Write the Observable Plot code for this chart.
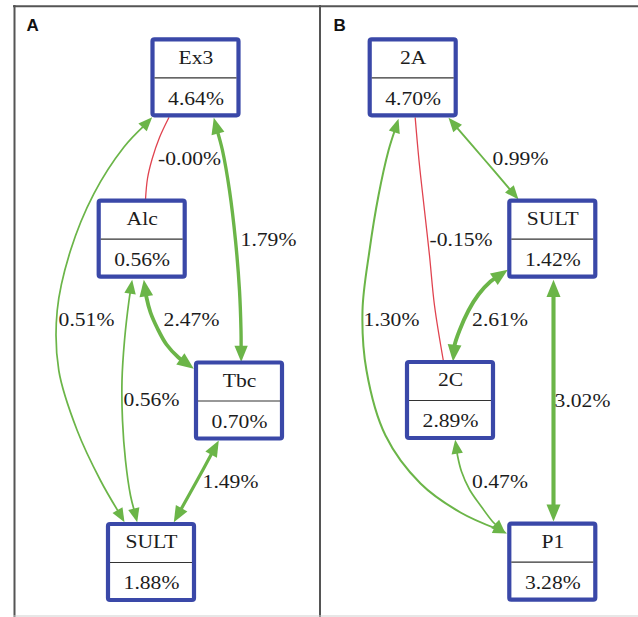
<!DOCTYPE html>
<html>
<head>
<meta charset="utf-8">
<script src="https://cdn.jsdelivr.net/npm/d3@7"></script>
<script src="https://cdn.jsdelivr.net/npm/@observablehq/plot@0.6"></script>
<style>
  body { margin: 0; background: #fff; }
</style>
</head>
<body>
<div id="chart"></div>
<script>
// ---------- data ----------
const panels = ["A", "B"];
const panelLetterX = [26, 333];

const nodeIds    = ["A:Ex3", "A:Alc", "A:Tbc", "A:SULT", "B:2A", "B:SULT", "B:2C", "B:P1"];
const nodeNames  = ["Ex3", "Alc", "Tbc", "SULT", "2A", "SULT", "2C", "P1"];
const nodeValues = [4.64, 0.56, 0.70, 1.88, 4.70, 1.42, 2.89, 3.28];
// graph layout (node centres)
const nodeX = [195.5, 141.7, 239, 151, 412.7, 552.3, 450, 552.3];
const nodeY = [77.3, 238.7, 400.5, 562, 77.3, 238.7, 400, 561.7];

const edgeSource = ["A:Ex3", "A:Ex3", "A:Ex3", "A:Alc", "A:Alc", "A:Tbc",
                    "B:2A", "B:2A", "B:2A", "B:SULT", "B:SULT", "B:2C"];
const edgeTarget = ["A:SULT", "A:Alc", "A:Tbc", "A:Tbc", "A:SULT", "A:SULT",
                    "B:SULT", "B:2C", "B:P1", "B:2C", "B:P1", "B:P1"];
const edgeValues = [0.51, -0, 1.79, 2.47, 0.56, 1.49,
                    0.99, -0.15, 1.30, 2.61, 3.02, 0.47];
// spline routes of the edges (layout waypoints)
const edgeRoutes = [
  [[151.7,116.7],[123.3,146.7],[93.3,193.3],[70,250],[56.7,310],[58.3,370],[76.7,430],[100,480],[124,521.7]],
  [[168.3,117.3],[159,137],[151.7,158.3],[147,178],[145,199]],
  [[213.3,117.3],[222,150],[229,190],[235,240],[239,290],[240.5,330],[240.7,361.5]],
  [[143.3,279.3],[146,297],[150,312],[157,328],[166,344],[178,357],[193.3,368.3]],
  [[131.7,279.3],[128.5,300],[124,340],[121.5,380],[122,420],[125,460],[130,495],[136.7,521.7]],
  [[218.3,440],[196,481],[173.3,521.7]],
  [[448,117.3],[483,158],[518,199]],
  [[414.7,117.3],[418.5,160],[424,210],[429,255],[434,305],[443,361]],
  [[398,118.3],[388,150],[378,195],[369,250],[362,310],[366,370],[385,435],[420,483],[460,512],[506.5,533]],
  [[507.3,269.3],[490,281],[478,294],[468,310],[459,330],[454,345],[452.5,361]],
  [[553,279.3],[553,400],[553,521]],
  [[454.7,439.3],[457,455],[461,471],[469,489],[480,505],[492,521],[505,533]]
];
const edgeLabelX = [86, 189, 268, 191, 151, 230, 520, 460.5, 391, 499.5, 582, 499.5];
const edgeLabelY = [320, 159, 240, 320, 400, 481.5, 159, 240, 320, 320, 400.5, 481.5];

// ---------- styles ----------
const GREEN = "#6bb548", RED = "#e0434f", BLUE = "#3a48a8", INK = "#1c1c1c";
const BOX_W = 86, BOX_H = 76;
const SERIF = "Liberation Serif";

// ---------- derived tables ----------
const nodes = nodeIds.map((id, i) => ({id, name: nodeNames[i], value: nodeValues[i], x: nodeX[i], y: nodeY[i]}));
const isNeg = v => v < 0 || Object.is(v, -0);
const fmtPct = v => (isNeg(v) ? "-" : "") + Math.abs(v).toFixed(2) + "%";
const edges = edgeSource.map((s, i) => ({
  i, source: s, target: edgeTarget[i], value: edgeValues[i],
  route: edgeRoutes[i], lx: edgeLabelX[i], ly: edgeLabelY[i],
  neg: isNeg(edgeValues[i])
}));
const strong = e => Math.abs(e.value) >= 1.4;
const penWidth = e => e.neg ? 1.3 : strong(e) ? 2.3 + 0.6 * e.value : 1.5 + 0.4 * e.value;
const headLen = e => strong(e) ? 15 + 0.7 * e.value : 14;

// arrowheads at both ends of each positive (bidirectional) edge
const heads = edges.filter(e => !e.neg).flatMap(e => {
  const r = e.route, n = r.length;
  const mk = (tip, prev) => ({
    x: tip[0], y: tip[1], L: headLen(e),
    angle: Math.atan2(tip[1] - prev[1], tip[0] - prev[0]) * 180 / Math.PI
  });
  return [mk(r[0], r[1]), mk(r[n - 1], r[n - 2])];
});

// edge path points, ends pulled back under the arrowheads
const edgePts = edges.flatMap(e => {
  const r = e.route.map(p => p.slice());
  if (!e.neg) {
    const pull = (a, b) => {
      const dx = b[0] - a[0], dy = b[1] - a[1], d = Math.hypot(dx, dy), k = 0.8 * headLen(e) / d;
      return [a[0] + dx * k, a[1] + dy * k];
    };
    const n = r.length;
    r[0] = pull(e.route[0], e.route[1]);
    r[n - 1] = pull(e.route[n - 1], e.route[n - 2]);
  }
  return r.map(([x, y]) => ({i: e.i, x, y, w: penWidth(e), neg: e.neg}));
});

const arrowHead = {
  draw(ctx, size) {
    const L = Math.sqrt(size / Math.PI), W = 0.82 * L;
    ctx.moveTo(0, 0);
    ctx.lineTo(-L, -W / 2);
    ctx.lineTo(-L, W / 2);
    ctx.closePath();
  }
};

const chart = Plot.plot({
  width: 638,
  height: 617,
  margin: 0,
  x: {domain: [0, 638], range: [0, 638], axis: null},
  y: {domain: [0, 617], range: [0, 617], axis: null},
  r: {type: "identity"},
  style: {background: "#fff"},
  marks: [
    // panel frame
    Plot.ruleY([5.8], {x1: 13, x2: 638, stroke: "#555", strokeWidth: 2}),
    Plot.ruleX([14, 319.5], {y1: 5, y2: 617, stroke: "#555", strokeWidth: 2}),
    Plot.ruleY([615.5], {x1: 13, x2: 638, stroke: "#cfcfcf", strokeWidth: 1}),
    Plot.text(panels, {x: (d, i) => panelLetterX[i], y: 25, text: d => d, textAnchor: "start",
      fontFamily: "Liberation Sans", fontWeight: "bold", fontSize: 17, fill: "#111"}),
    // edges
    Plot.line(edgePts.filter(d => d.neg), {x: "x", y: "y", z: "i", curve: "catmull-rom", stroke: RED, strokeWidth: "w"}),
    Plot.line(edgePts.filter(d => !d.neg), {x: "x", y: "y", z: "i", curve: "catmull-rom", stroke: GREEN, strokeWidth: "w"}),
    Plot.dot(heads, {x: "x", y: "y", r: "L", rotate: "angle", symbol: arrowHead, fill: GREEN, stroke: "none"}),
    // nodes
    Plot.rect(nodes, {
      x1: d => d.x - BOX_W / 2, x2: d => d.x + BOX_W / 2,
      y1: d => d.y - BOX_H / 2, y2: d => d.y + BOX_H / 2,
      fill: "#fff", stroke: BLUE, strokeWidth: 4.2, rx: 2
    }),
    Plot.ruleY(nodes, {y: "y", x1: d => d.x - BOX_W / 2 + 2, x2: d => d.x + BOX_W / 2 - 2, stroke: "#333", strokeWidth: 1.2}),
    Plot.text(nodes, {x: "x", y: d => d.y - 20, text: "name", fontFamily: SERIF, fontSize: 18, fill: INK}),
    Plot.text(nodes, {x: "x", y: d => d.y + 21, text: d => fmtPct(d.value), fontFamily: SERIF, fontSize: 18, fill: INK}),
    // edge labels
    Plot.text(edges, {x: "lx", y: "ly", text: d => fmtPct(d.value), fontFamily: SERIF, fontSize: 18, fill: INK})
  ]
});

document.getElementById("chart").append(chart);

// the reference typesetting is horizontally wide: stretch serif labels
const svg = chart.tagName.toLowerCase() === "svg" ? chart : chart.querySelector("svg");
svg.querySelectorAll("text").forEach(t => {
  const s = t.textContent;
  if (s === "A" || s === "B") return;
  const w = t.getComputedTextLength();
  t.setAttribute("textLength", (w * 1.2).toFixed(1));
  t.setAttribute("lengthAdjust", "spacingAndGlyphs");
});
</script>
</body>
</html>
